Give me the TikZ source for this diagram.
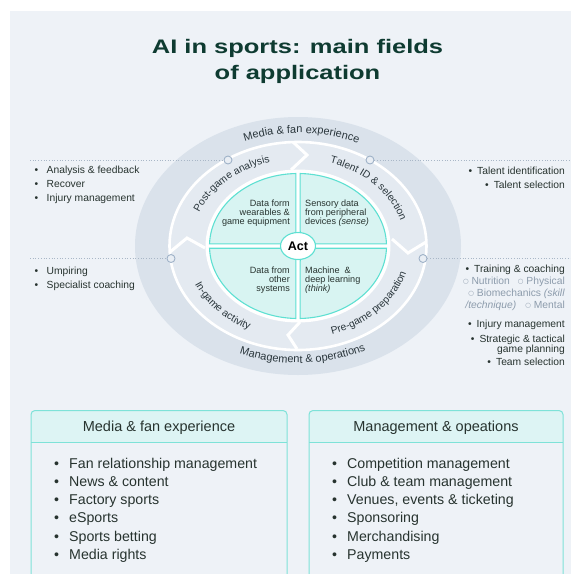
\documentclass[tikz,border=0pt]{standalone}
\usepackage{fontspec}
\setmainfont{Liberation Sans}
\newfontfamily\titlefam[FakeStretch=1.3]{Liberation Sans}
\newfontfamily\symfam{DejaVu Sans}
\usetikzlibrary{calc,decorations.text,shapes.geometric}

\definecolor{pagebg}{HTML}{EEF2F7}
\definecolor{outerband}{HTML}{DAE2EB}
\definecolor{midband}{HTML}{E4EAF1}
\definecolor{tealfill}{HTML}{D8F4F2}
\definecolor{tealline}{HTML}{5EE0D2}
\definecolor{titlegreen}{HTML}{0E3B31}
\definecolor{ink}{HTML}{27332F}
\definecolor{ringink}{HTML}{2A363C}
\definecolor{subink}{HTML}{8D9CAC}
\definecolor{dotline}{HTML}{A9B7C7}
\definecolor{markerline}{HTML}{9FB2C8}
\definecolor{markerfill}{HTML}{E9EEF4}
\definecolor{headfill}{HTML}{DDF4F4}
\definecolor{boxline}{HTML}{7EE2D8}

\newcommand\fs[2]{\fontsize{#1}{#2}\selectfont}
\newcommand\ringfont{\fs{10.3}{12}}
\newcommand\bandfont{\fs{11}{13}}
\newcommand\bul{\makebox[12pt][l]{•}}
\newcommand\bigbul{\makebox[15pt][l]{•}}
\newcommand\hollow{\raisebox{0.6pt}{\symfam\fs{6.5}{8}○}}

\tikzset{
  listtxt/.style={anchor=base west, inner sep=0, font=\fs{10.3}{12}, text=ink},
  listtxtR/.style={anchor=base east, inner sep=0, font=\fs{10.3}{12}, text=ink},
  subtxt/.style={listtxtR, text=subink},
  quadtxt/.style={inner sep=0, font=\fs{9.1}{9}, text=ink},
  quadrant/.style={fill=tealfill, draw=tealline, line width=1.1},
  chevron/.style={draw=white, line width=3, line join=miter},
  markernode/.style={circle, minimum size=8, inner sep=0, draw=markerline, fill=markerfill, line width=0.9},
  leader/.style={draw=dotline, line width=0.9, dash pattern=on 0.9pt off 1.8pt},
  boxtxt/.style={anchor=base west, inner sep=0, font=\fs{14.2}{16}, text=ink},
  headtxt/.style={anchor=base, inner sep=0, font=\fs{14.5}{16}, text=ink},
  ringlabel/.style={decorate, decoration={text along path, text align=center, text color=ringink, text={|\ringfont|#1}}},
  bandlabel/.style={decorate, decoration={text along path, text align=center, text color=ringink, text={|\bandfont|#1}}},
}

\begin{document}
\begin{tikzpicture}[x=1pt,y=1pt]
\useasboundingbox (0,0) rectangle (571,-574);
\fill[white] (0,0) rectangle (571,-574);
\fill[pagebg] (10,-11) rectangle (571,-574);

% title
\node[anchor=base, inner sep=0, font=\titlefam\bfseries\fs{19.6}{24}, text=titlegreen] (title1) at (297.5,-53.3) {AI in sports: main fields};
\node[anchor=base, inner sep=0, font=\titlefam\bfseries\fs{19.6}{24}, text=titlegreen] (title2) at (297.5,-79.5) {of application};

% rings
\coordinate (C) at (298,-246);
\fill[outerband] (C) ellipse [x radius=163, y radius=129];
\fill[midband] (C) ellipse [x radius=128.5, y radius=104];
\draw[white, line width=2.6] (C) ellipse [x radius=128.5, y radius=104];
\fill[white] (C) ellipse [x radius=92.5, y radius=76.5];

% phase separators
\draw[chevron] (293,-142) -- (307,-155) -- (291,-170);
\draw[chevron] (392,-239) -- (408,-253) -- (426,-242);
\draw[chevron] (300,-322) -- (288,-335) -- (297,-349);
\draw[chevron] (170,-252) -- (187,-238) -- (205,-248);

% data quadrants
\draw[quadrant] ($(C)+(2.2,2.2)$) -- ($(C)+(88.58:88.5 and 72.5)$) arc[start angle=88.58, end angle=1.74, x radius=88.5, y radius=72.5] -- cycle;
\draw[quadrant] ($(C)+(-2.2,2.2)$) -- ($(C)+(178.26:88.5 and 72.5)$) arc[start angle=178.26, end angle=91.42, x radius=88.5, y radius=72.5] -- cycle;
\draw[quadrant] ($(C)+(-2.2,-2.2)$) -- ($(C)+(181.74:88.5 and 72.5)$) arc[start angle=181.74, end angle=268.58, x radius=88.5, y radius=72.5] -- cycle;
\draw[quadrant] ($(C)+(2.2,-2.2)$) -- ($(C)+(271.42:88.5 and 72.5)$) arc[start angle=271.42, end angle=358.26, x radius=88.5, y radius=72.5] -- cycle;

\node[ellipse, draw=tealline, fill=white, line width=1.1, minimum width=35, minimum height=27, inner sep=0, font=\bfseries\fs{12.5}{14}, text=black] (act) at (C) {Act};

\node[quadtxt, align=right, anchor=east] (qTL) at (290,-213) {Data form\\wearables \&\\game equipment};
\node[quadtxt, align=left, anchor=west] (qTR) at (305,-213) {Sensory data\\from peripheral\\devices \textit{(sense)}};
\node[quadtxt, align=right, anchor=east] (qBL) at (290,-280) {Data from\\other\\systems};
\node[quadtxt, align=left, anchor=west] (qBR) at (305,-280) {Machine \ \&\\deep learning\\\textit{(think)}};

% ring labels
\path[ringlabel={Post-game analysis}] ($(C)+(167:107 and 87)$) arc[start angle=167, end angle=97, x radius=107, y radius=87];
\path[ringlabel={Talent ID {\&} selection}] ($(C)+(79:107 and 87)$) arc[start angle=79, end angle=9, x radius=107, y radius=87];
\path[ringlabel={Pre-game preparation}] ($(C)+(-79:113 and 93)$) arc[start angle=-79, end angle=-9, x radius=113, y radius=93];
\path[ringlabel={In-game activity}] ($(C)+(188:113 and 93)$) arc[start angle=188, end angle=258, x radius=113, y radius=93];
\path[bandlabel={Media {\&} fan experience}] ($(C)+(123.5:143 and 113)$) arc[start angle=123.5, end angle=53.5, x radius=143, y radius=113];
\path[bandlabel={Management {\&} operations}] ($(C)+(237:148 and 117)$) arc[start angle=237, end angle=307, x radius=148, y radius=117];

% leaders and markers
\node[markernode] (m1) at (228,-160) {};
\node[markernode] (m2) at (370,-160) {};
\node[markernode] (m3) at (171,-258.5) {};
\node[markernode] (m4) at (423,-258.5) {};
\coordinate (l1) at (30,-160);
\coordinate (r1) at (571,-160);
\coordinate (l2) at (30,-258.5);
\coordinate (r2) at (571,-258.5);
\draw[leader] (l1) -- (m1);
\draw[leader] (m2) -- (r1);
\draw[leader] (l2) -- (m3);
\draw[leader] (m4) -- (r2);

% side lists
\foreach \t [count=\i] in {Analysis \& feedback, Recover, Injury management}
  \node[listtxt] (lt\i) at (34.5,{-173.5-14*(\i-1)}) {\bul\t};
\foreach \t [count=\i] in {Umpiring, Specialist coaching}
  \node[listtxt] (lb\i) at (34.5,{-274.5-13.5*(\i-1)}) {\bul\t};

\node[listtxtR] (rt1) at (565,-174.5) {•\hspace{5pt}Talent identification};
\node[listtxtR] (rt2) at (565,-188.2) {•\hspace{5pt}Talent selection};

\node[listtxtR] (rb1) at (565,-272.2) {•\hspace{5pt}Training \& coaching};
\node[subtxt] (rb2) at (565,-284.2) {\hollow\ Nutrition\hspace{8pt}\hollow\ Physical};
\node[subtxt] (rb3) at (565,-296.2) {\hollow\ Biomechanics \textit{(skill}};
\node[subtxt] (rb4) at (565,-308.2) {\textit{/technique)}\hspace{9pt}\hollow\ Mental};
\node[listtxtR] (rb5) at (565,-327.8) {•\hspace{5pt}Injury management};
\node[listtxtR] (rb6) at (565,-342.2) {•\hspace{5pt}Strategic \& tactical};
\node[listtxtR] (rb7) at (565,-352.8) {game planning};
\node[listtxtR] (rb8) at (565,-365.8) {•\hspace{5pt}Team selection};

% bottom boxes
\foreach \xa/\xb in {31/287, 309/563} {
  \fill[headfill, rounded corners=4] (\xa,-442) rectangle (\xb,-410.5);
  \fill[headfill] (\xa,-442) rectangle (\xb,-430);
  \draw[boxline, line width=1] (\xa,-442) -- (\xb,-442);
  \draw[boxline, line width=1, rounded corners=4] (\xa,-575) -- (\xa,-410.5) -- (\xb,-410.5) -- (\xb,-575);
}
\node[headtxt] (h1) at (159,-431.5) {Media \& fan experience};
\node[headtxt] (h2) at (436,-431.5) {Management \& opeations};

\foreach \t [count=\i] in {Fan relationship management, News \& content, Factory sports, eSports, Sports betting, Media rights}
  \node[boxtxt] (bl\i) at (54,{-468.3-18.2*(\i-1)}) {\bigbul\t};
\foreach \t [count=\i] in {Competition management, Club \& team management, {Venues, events \& ticketing}, Sponsoring, Merchandising, Payments}
  \node[boxtxt] (br\i) at (332,{-468.3-18.2*(\i-1)}) {\bigbul\t};
\end{tikzpicture}
\end{document}
